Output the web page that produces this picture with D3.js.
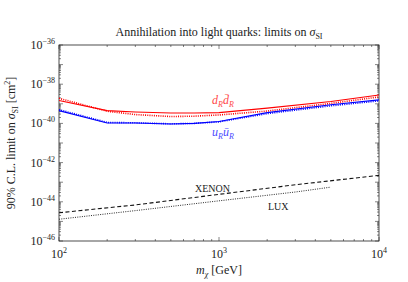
<!DOCTYPE html>
<html><head><meta charset="utf-8">
<script src="https://cdn.jsdelivr.net/npm/d3@7"></script>
<style>body{margin:0;background:#fff}svg{display:block}text{font-family:"Liberation Serif","DejaVu Serif",serif;fill:#222}</style>
</head><body><svg id="c" width="408" height="282"></svg>
<script>
const masses = [100, 200, 300, 500, 700, 1000, 2000, 5000, 10000];
const dRsolid  = [1.48e-39, 4.47e-40, 3.8e-40, 3.39e-40, 3.39e-40, 3.55e-40, 6.03e-40, 1.32e-39, 2.82e-39];
const dRdotted = [1.91e-39, 4.17e-40, 2.82e-40, 2.24e-40, 2.34e-40, 2.69e-40, 4.27e-40, 1.05e-39, 2.24e-39];
const uRsolid  = [4.47e-40, 1.05e-40, 1.05e-40, 9.3e-41, 1.0e-40, 1.26e-40, 3.55e-40, 8.9e-40, 1.58e-39];
const uRdotted = [5.0e-40, 1.12e-40, 1.07e-40, 9.5e-41, 1.0e-40, 1.2e-40, 3.16e-40, 7.9e-40, 1.41e-39];
const xenonMass = [100, 300, 1000, 3000, 10000];
const xenonSigma = [2.75e-45, 6.9e-45, 2.4e-44, 7.4e-44, 2.24e-43];
const luxMass = [100, 300, 1000, 3000, 5000];
const luxSigma = [1.29e-45, 3.55e-45, 1.12e-44, 3.16e-44, 5.6e-44];
const xTickExps = [2, 3, 4];
const yTickExps = [-36, -38, -40, -42, -44, -46];

const svg = d3.select("#c");
const L = 59, R = 379, T = 45, B = 241;
const x = d3.scaleLog().domain([100, 1e4]).range([L, R]);
const y = d3.scaleLog().domain([1e-46, 1e-36]).range([B, T]);

// ticks (inward, all sides)
const g = svg.append("g").attr("stroke", "#333").attr("stroke-width", 0.6);
const xMajor = [], xMinor = [];
for (let e = 2; e <= 4; e++) { xMajor.push(Math.pow(10, e)); if (e < 4) for (let k = 2; k <= 9; k++) xMinor.push(k * Math.pow(10, e)); }
const yMajor = [], yMinor = [];
for (let e = -46; e <= -36; e++) { yMajor.push(Math.pow(10, e)); if (e < -36) for (let k = 2; k <= 9; k++) yMinor.push(k * Math.pow(10, e)); }
xMajor.forEach(v => { g.append("line").attr("x1", x(v)).attr("x2", x(v)).attr("y1", B).attr("y2", B - 4); g.append("line").attr("x1", x(v)).attr("x2", x(v)).attr("y1", T).attr("y2", T + 4); });
xMinor.forEach(v => { g.append("line").attr("x1", x(v)).attr("x2", x(v)).attr("y1", B).attr("y2", B - 2); g.append("line").attr("x1", x(v)).attr("x2", x(v)).attr("y1", T).attr("y2", T + 2); });
yMajor.forEach(v => { g.append("line").attr("y1", y(v)).attr("y2", y(v)).attr("x1", L).attr("x2", L + 4); g.append("line").attr("y1", y(v)).attr("y2", y(v)).attr("x1", R).attr("x2", R - 4); });
yMinor.forEach(v => { g.append("line").attr("y1", y(v)).attr("y2", y(v)).attr("x1", L).attr("x2", L + 2); g.append("line").attr("y1", y(v)).attr("y2", y(v)).attr("x1", R).attr("x2", R - 2); });

svg.append("rect").attr("x", L).attr("y", T).attr("width", R - L).attr("height", B - T)
  .attr("fill", "none").attr("stroke", "#222").attr("stroke-width", 0.8);

// tick labels
xTickExps.forEach(e => {
  const t = svg.append("text").attr("x", x(Math.pow(10, e))).attr("y", 258).attr("text-anchor", "middle").attr("font-size", 12);
  t.append("tspan").text("10");
  t.append("tspan").attr("font-size", 8).attr("dy", -5).text(e);
});
yTickExps.forEach(e => {
  const t = svg.append("text").attr("x", 55).attr("y", y(Math.pow(10, e)) + 4).attr("text-anchor", "end").attr("font-size", 12);
  t.append("tspan").text("10");
  t.append("tspan").attr("font-size", 8).attr("dy", -5).text("\u2212" + Math.abs(e));
});

const line = d3.line().x(d => x(d[0])).y(d => y(d[1]));
const plot = svg.append("g");
function draw(xs, ys, color, dash, w) {
  plot.append("path").datum(xs.map((m, i) => [m, ys[i]])).attr("d", line)
    .attr("fill", "none").attr("stroke", color).attr("stroke-width", w)
    .attr("stroke-dasharray", dash);
}
draw(masses, dRdotted, "#ff0000", "1,1.2", 1.6);
draw(masses, dRsolid, "#ff0000", null, 1.1);
draw(masses, uRdotted, "#0000ff", "1,1.2", 1.6);
draw(masses, uRsolid, "#0000ff", null, 1.1);
draw(xenonMass, xenonSigma, "#111", "4,2.5", 1.1);
draw(luxMass, luxSigma, "#111", "1,1.3", 0.9);

// curve labels
function lab(px, py, main, sub, color) {
  const t = svg.append("text").attr("x", px).attr("y", py).attr("font-size", 12).attr("font-style", "italic").style("fill", color);
  t.append("tspan").text("d" === main ? "d" : main);
}
function quarkLabel(px, py, q, color) {
  const t = svg.append("text").attr("x", px).attr("y", py).attr("font-size", 12).attr("font-style", "italic").style("fill", color);
  t.append("tspan").text(q);
  t.append("tspan").attr("font-size", 8).attr("dy", 3).text("R");
  t.append("tspan").attr("dy", -3).text(q === "d" ? "d\u0304" : "u\u0304");
  t.append("tspan").attr("font-size", 8).attr("dy", 3).text("R");
}
quarkLabel(212, 104, "d", "#ff4a4a");
quarkLabel(212, 136, "u", "#4a4aff");
svg.append("text").attr("x", 195).attr("y", 192).attr("font-size", 10).text("XENON");
svg.append("text").attr("x", 268).attr("y", 210).attr("font-size", 10).text("LUX");

// title
const tt = svg.append("text").attr("x", 219).attr("y", 36).attr("text-anchor", "middle").attr("font-size", 12);
tt.append("tspan").text("Annihilation into light quarks:  limits on ");
tt.append("tspan").attr("font-style", "italic").text("\u03c3");
tt.append("tspan").attr("font-size", 8).attr("dy", 3).text("SI");

// axis labels
const xl = svg.append("text").attr("x", 219).attr("y", 274).attr("text-anchor", "middle").attr("font-size", 12);
xl.append("tspan").attr("font-style", "italic").text("m");
xl.append("tspan").attr("font-size", 8).attr("dy", 3).attr("font-style", "italic").text("\u03c7");
xl.append("tspan").attr("dy", -3).text(" [GeV]");

const yl = svg.append("text").attr("transform", `translate(15,${(T + B) / 2}) rotate(-90)`).attr("text-anchor", "middle").attr("font-size", 12);
yl.append("tspan").text("90% C.L. limit on ");
yl.append("tspan").attr("font-style", "italic").text("\u03c3");
yl.append("tspan").attr("font-size", 8).attr("dy", 3).text("SI");
yl.append("tspan").attr("dy", -3).text(" [cm");
yl.append("tspan").attr("font-size", 8).attr("dy", -5).text("2");
yl.append("tspan").attr("dy", 5).text("]");
</script></body></html>
